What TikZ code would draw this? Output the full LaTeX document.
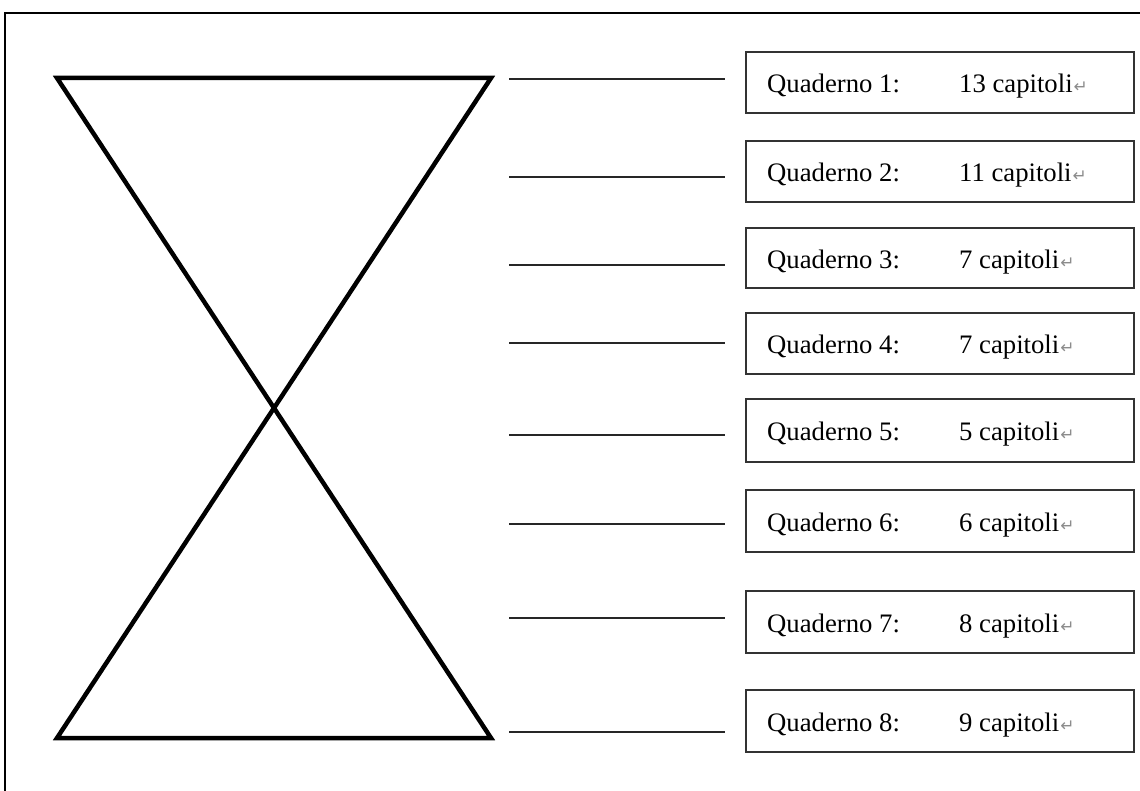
\documentclass[tikz,border=0pt]{standalone}
\usepackage{fontspec}
\setmainfont{Liberation Serif}
\newfontfamily\dvfont{DejaVu Sans}
\tikzset{
  frame/.style={line width=2bp, black},
  glass/.style={line width=4.5bp, black, line join=miter},
  tick/.style={line width=1.5bp, black!85},
  qbox/.style={draw=black!80, line width=2bp, rectangle, minimum width=388bp, inner sep=0pt, anchor=north west},
  qtext/.style={anchor=base west, inner sep=0pt, font=\fontsize{26.8}{30}\selectfont},
}
\newcommand{\retmark}{\kern1bp{\dvfont\fontsize{17}{18}\selectfont\color{black!45}↵}}
\begin{document}
\begin{tikzpicture}[x=1bp,y=-1bp]
\useasboundingbox (0,0) rectangle (1140,791);
% outer frame (only top and left edges visible)
\coordinate (fbl) at (5,791);
\coordinate (ftl) at (5,13);
\coordinate (ftr) at (1140,13);
\draw[frame] (fbl) -- (ftl) -- (ftr);
% hourglass
\coordinate (htl) at (57,78);
\coordinate (htr) at (491,78);
\coordinate (hbl) at (57,738);
\coordinate (hbr) at (491,738);
\draw[glass] (htl) -- (htr) -- (hbl) -- (hbr) -- cycle;
% boxes and lines
\foreach \i/\top/\bot/\ly/\cnt in {1/51/112/79/13,2/140/201/177/11,3/227/287/265/7,4/312/373/343/7,5/398/461/435/5,6/489/551/524/6,7/590/652/618/8,8/689/751/732/9}{
  \pgfmathsetmacro{\hh}{\bot-\top}
  \node[qbox, minimum height=\hh bp] (q\i) at (745,\top) {};
  \pgfmathsetmacro{\bl}{(\top+\bot)/2+11}
  \node[qtext] (qa\i) at (767,\bl) {Quaderno \i:};
  \node[qtext] (qb\i) at (959,\bl) {\cnt\ capitoli\retmark};
  \coordinate (la\i) at (509,\ly);
  \coordinate (lb\i) at (725,\ly);
  \draw[tick] (la\i) -- (lb\i);
}
\end{tikzpicture}
\end{document}
